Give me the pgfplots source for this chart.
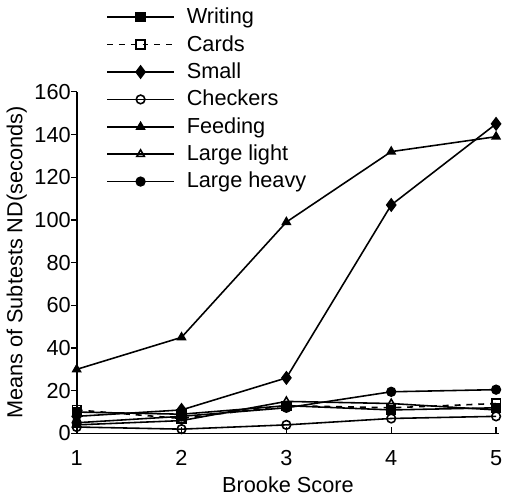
\documentclass[border=0pt]{standalone}
\usepackage{fontspec}
\setmainfont{Liberation Sans}
\usepackage{pgfplots}
\pgfplotsset{compat=1.18}
\begin{document}
\begin{tikzpicture}
\begin{axis}[
  scale only axis,
  width=214pt, height=173pt,
  xmin=1, xmax=5.03, ymin=0, ymax=160,
  axis lines=left,
  axis line style={-, line width=0.9pt},
  xtick={1,2,3,4,5}, ytick={0,20,...,160},
  tick style={black, line width=0.6pt},
  ytick align=outside, xtick align=inside,
  major tick length=3pt,
  /pgf/number format/assume math mode=true,
  tick label style={font=\fontsize{11}{12}\selectfont},
  yticklabel style={xshift=3.5pt},
  xticklabel style={yshift=-5pt},
  label style={font=\fontsize{11}{12}\selectfont},
  xlabel={Brooke Score},
  xlabel style={yshift=1pt},
  ylabel={Means of Subtests ND(seconds)},
  ylabel style={yshift=-3pt},
  every axis plot/.append style={black, line width=0.8pt, mark size=2.2pt},
  legend style={draw=none, fill=none, at={(rel axis cs:0.055,1.27)}, anchor=north west,
    font=\fontsize{11}{12}\selectfont, row sep=0.4pt, cells={anchor=west},
    /tikz/every odd column/.style={column sep=4pt}},
  legend image code/.code={\draw[#1, mark=none] (0pt,0pt) -- (34pt,0pt);
    \draw[#1] plot coordinates {(17pt,0pt)};},
  clip=false,
]
\addplot[mark=square*] coordinates {(1,10) (2,9) (3,13) (4,11) (5,12)};
\addlegendentry{Writing}
\addplot[dashed, mark=square, mark options={solid, fill=white}] coordinates {(1,11) (2,7) (3,13) (4,12) (5,14)};
\addlegendentry{Cards}
\addplot[mark=diamond*, mark size=3pt] coordinates {(1,8) (2,11) (3,26) (4,107) (5,145)};
\addlegendentry{Small}
\addplot[mark=o, mark options={fill=white}] coordinates {(1,3) (2,2) (3,4) (4,7) (5,8)};
\addlegendentry{Checkers}
\addplot[mark=triangle*] coordinates {(1,30) (2,45) (3,99) (4,132) (5,139)};
\addlegendentry{Feeding}
\addplot[mark=triangle, mark options={fill=white}] coordinates {(1,4) (2,6) (3,15) (4,14) (5,11)};
\addlegendentry{Large light}
\addplot[mark=*] coordinates {(1,5) (2,8) (3,12) (4,19.5) (5,20.5)};
\addlegendentry{Large heavy}
\path (rel axis cs:1,0) ++(9pt,0pt);
\end{axis}
\end{tikzpicture}
\end{document}
